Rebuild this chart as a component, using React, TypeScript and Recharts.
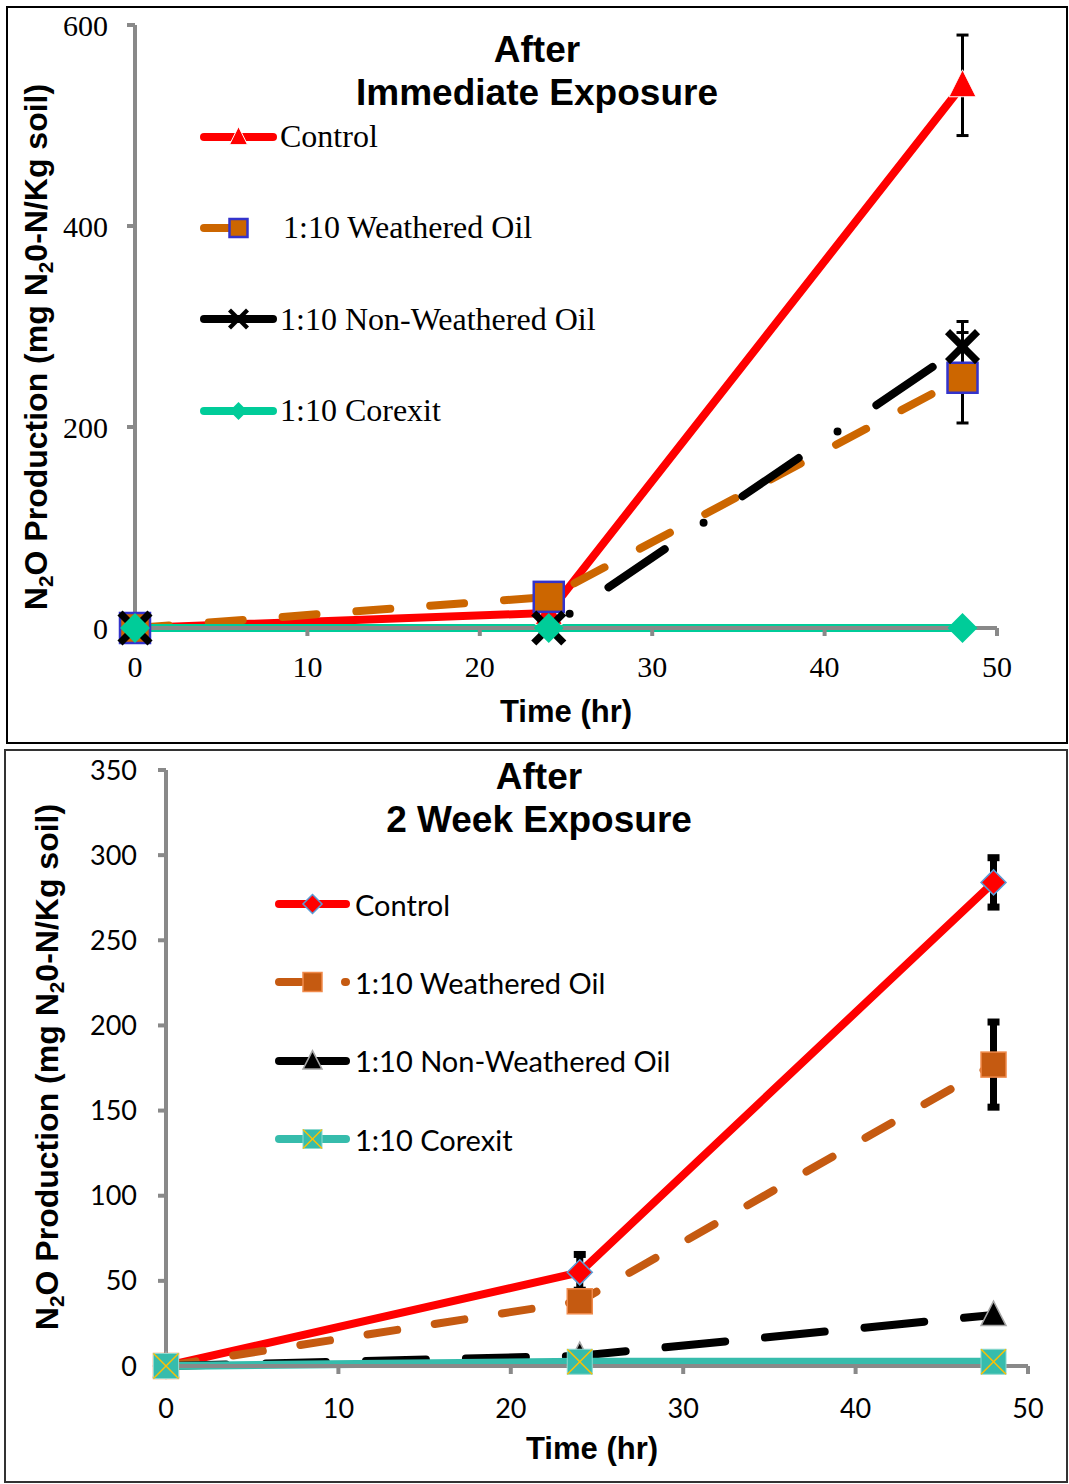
import React from 'react';
import { LineChart, Line, XAxis, YAxis, ErrorBar, Legend } from 'recharts';

const hours = [0, 24, 48];

// After immediate exposure
const immControl = [0, 15, 540];
const immControlErr = [0, 0, 50];
const immWeathered = [0, 31, 249];
const immWeatheredErr = [0, 0, 45];
const immNonWeathered = [0, 0, 280];
const immNonWeatheredErr = [0, 0, 25];
const immCorexit = [0, 0, 0];

// After 2 week exposure
const wkControl = [0, 55, 284];
const wkControlErr = [0, 10.5, 14.5];
const wkWeathered = [0, 38, 177];
const wkWeatheredErr = [0, 0, 25];
const wkNonWeathered = [0, 6, 30];
const wkCorexit = [0, 2.5, 2.5];

const xTicks = [0, 10, 20, 30, 40, 50];
const immYTicks = [0, 200, 400, 600];
const wkYTicks = [0, 50, 100, 150, 200, 250, 300, 350];

const seriesNames = ['Control', '1:10 Weathered Oil', '1:10 Non-Weathered Oil', '1:10 Corexit'];

const immData = hours.map((t, i) => ({
  t,
  control: immControl[i], controlErr: immControlErr[i],
  weathered: immWeathered[i], weatheredErr: immWeatheredErr[i],
  nonWeathered: immNonWeathered[i], nonWeatheredErr: immNonWeatheredErr[i],
  corexit: immCorexit[i],
}));

const wkData = hours.map((t, i) => ({
  t,
  control: wkControl[i], controlErr: wkControlErr[i],
  weathered: wkWeathered[i], weatheredErr: wkWeatheredErr[i],
  nonWeathered: wkNonWeathered[i],
  corexit: wkCorexit[i],
}));

const SERIF = '"Liberation Serif", "Times New Roman", serif';
const SANS = '"Liberation Sans", Arial, sans-serif';
const CAL = 'Lato, "Open Sans", sans-serif';
const AXIS = '#898989';

// styles per panel
const topStyle = [
  { key: 'control', color: '#FF0000', dash: undefined, legendDash: undefined, marker: 'tri' },
  { key: 'weathered', color: '#CC6600', dash: '34 40', legendDash: '26 80', marker: 'sq' },
  { key: 'nonWeathered', color: '#000000', dash: '68 47 0 47', legendDash: undefined, marker: 'x' },
  { key: 'corexit', color: '#00CC99', dash: undefined, legendDash: undefined, marker: 'dia' },
];
const wkStyle = [
  { key: 'control', color: '#FF0000', dash: undefined, legendDash: undefined, marker: 'wdia' },
  { key: 'weathered', color: '#C55A11', dash: '30 38', legendDash: '22 44', marker: 'wsq' },
  { key: 'nonWeathered', color: '#000000', dash: '60 40', legendDash: undefined, marker: 'wtri' },
  { key: 'corexit', color: '#36BCAC', dash: undefined, legendDash: undefined, marker: 'xsq' },
];

function Marker({ kind, cx, cy, s }: any) {
  const h = s / 2;
  switch (kind) {
    case 'tri':
      return <polygon points={`${cx},${cy - h * 1.15} ${cx - h},${cy + h * 0.85} ${cx + h},${cy + h * 0.85}`} fill="#FF0000" stroke="#fff" strokeWidth={1} />;
    case 'sq':
      return <rect x={cx - h} y={cy - h} width={s} height={s} fill="#CC6600" stroke="#3333CC" strokeWidth={2.5} />;
    case 'x':
      return (
        <g stroke="#000" strokeWidth={s * 0.24}>
          <line x1={cx - h} y1={cy - h} x2={cx + h} y2={cy + h} />
          <line x1={cx - h} y1={cy + h} x2={cx + h} y2={cy - h} />
        </g>
      );
    case 'dia':
      return <polygon points={`${cx},${cy - h} ${cx + h},${cy} ${cx},${cy + h} ${cx - h},${cy}`} fill="#00CC99" />;
    case 'wdia':
      return <polygon points={`${cx},${cy - h} ${cx + h},${cy} ${cx},${cy + h} ${cx - h},${cy}`} fill="#FF0000" stroke="#5B9BD5" strokeWidth={1.5} />;
    case 'wsq':
      return <rect x={cx - h} y={cy - h} width={s} height={s} fill="#C55A11" stroke="#F08A4B" strokeWidth={1.5} />;
    case 'wtri':
      return <polygon points={`${cx},${cy - h * 1.1} ${cx - h},${cy + h * 0.85} ${cx + h},${cy + h * 0.85}`} fill="#000" stroke="#A6A6A6" strokeWidth={1.5} />;
    case 'xsq':
      return (
        <g>
          <rect x={cx - h} y={cy - h} width={s} height={s} fill="#36BCAC" stroke="#8FD9CF" strokeWidth={1} />
          <line x1={cx - h} y1={cy - h} x2={cx + h} y2={cy + h} stroke="#FFC000" strokeWidth={1.5} />
          <line x1={cx - h} y1={cy + h} x2={cx + h} y2={cy - h} stroke="#FFC000" strokeWidth={1.5} />
        </g>
      );
    default:
      return null;
  }
}

const dotOf = (kind: string, size: number) => (p: any) => {
  if (p.cx == null || p.cy == null) return <g key={`e${p.index}`} />;
  return <Marker key={`m${p.index}`} kind={kind} cx={p.cx} cy={p.cy} s={size} />;
};

function LegendBox({ styles, font, fontSize, rowH, svgW, lineX1, lineX2, markerSize, gap, extra }: any) {
  return (
    <div style={{ fontFamily: font, fontSize, color: '#000' }}>
      {styles.map((st: any, i: number) => (
        <div key={st.key} style={{ height: rowH, display: 'flex', alignItems: 'center', whiteSpace: 'nowrap' }}>
          <svg width={svgW} height={30} style={{ overflow: 'visible' }}>
            <line x1={lineX1} y1={15} x2={lineX2} y2={15} stroke={st.color} strokeWidth={8}
              strokeLinecap="round" strokeDasharray={st.legendDash} />
            <Marker kind={st.marker} cx={(lineX1 + lineX2) / 2} cy={15} s={markerSize} />
          </svg>
          <span style={{ marginLeft: gap + (i === 1 ? extra : 0) }}>{seriesNames[i]}</span>
        </div>
      ))}
    </div>
  );
}

function YTitle({ cx, cy }: any) {
  const sub = { fontSize: '0.65em', position: 'relative' as const, top: '0.3em' };
  return (
    <div style={{
      position: 'absolute', left: cx - 300, top: cy - 20, width: 600, height: 40, lineHeight: '40px',
      textAlign: 'center', transform: 'rotate(-90deg)', fontFamily: SANS, fontWeight: 'bold', fontSize: 32,
      whiteSpace: 'nowrap',
    }}>
      N<span style={sub}>2</span>O Production (mg N<span style={sub}>2</span>0-N/Kg soil)
    </div>
  );
}

function Title({ cx, top, lines, lh }: any) {
  return (
    <div style={{
      position: 'absolute', left: cx - 300, top, width: 600, textAlign: 'center', fontFamily: SANS,
      fontWeight: 'bold', fontSize: 37, lineHeight: `${lh}px`,
    }}>
      {lines.map((l: string) => <div key={l}>{l}</div>)}
    </div>
  );
}

function XTitle({ cx, cy }: any) {
  return (
    <div style={{
      position: 'absolute', left: cx - 150, top: cy - 20, width: 300, height: 40, lineHeight: '40px',
      textAlign: 'center', fontFamily: SANS, fontWeight: 'bold', fontSize: 31,
    }}>Time (hr)</div>
  );
}

export default function App() {
  const axisLine = { stroke: AXIS, strokeWidth: 4 };
  return (
    <div style={{ position: 'absolute', left: 0, top: 0, width: 1069, height: 1484, background: '#fff', overflow: 'hidden' }}>
      {/* top panel */}
      <div style={{ position: 'absolute', left: 6, top: 6, width: 1062, height: 738, border: '2px solid #000', boxSizing: 'border-box' }} />
      <div style={{ position: 'absolute', left: 7, top: 7 }}>
        <LineChart width={1060} height={736} data={immData} margin={{ top: 18, right: 70, bottom: 75, left: 68 }}>
          <XAxis dataKey="t" type="number" domain={[0, 50]} ticks={xTicks} height={40}
            axisLine={axisLine} tickLine={axisLine} tickSize={8} tickMargin={20}
            tick={{ fill: '#000', fontSize: 30, fontFamily: SERIF }} />
          <YAxis type="number" domain={[0, 600]} ticks={immYTicks} width={60}
            axisLine={axisLine} tickLine={axisLine} tickSize={8} tickMargin={19}
            tick={{ fill: '#000', fontSize: 30, fontFamily: SERIF }} />
          {topStyle.map((st) => (
            <Line key={st.key} dataKey={st.key} stroke={st.color} strokeWidth={8} strokeDasharray={st.dash}
              strokeLinecap="round" dot={dotOf(st.marker, st.marker === 'tri' ? 27 : 30)} activeDot={false}
              isAnimationActive={false}>
              {st.key !== 'corexit' && (
                <ErrorBar dataKey={`${st.key}Err`} direction="y" width={6} strokeWidth={3} stroke="#000"
                  isAnimationActive={false} />
              )}
            </Line>
          ))}
          <Legend layout="horizontal" verticalAlign="middle" align="center"
            wrapperStyle={{ left: 189, top: 84, width: 'auto', height: 'auto' }}
            content={() => (
              <LegendBox styles={topStyle} font={SERIF} fontSize={32} rowH={91.3} svgW={84}
                lineX1={8} lineX2={77} markerSize={18} gap={0} extra={3} />
            )} />
        </LineChart>
      </div>
      <Title cx={537} top={28} lines={['After', 'Immediate Exposure']} lh={43} />
      <XTitle cx={566} cy={712} />
      <YTitle cx={36} cy={347} />

      {/* bottom panel */}
      <div style={{ position: 'absolute', left: 4, top: 749, width: 1064, height: 734, border: '2px solid #333', boxSizing: 'border-box' }} />
      <div style={{ position: 'absolute', left: 5, top: 750 }}>
        <LineChart width={1062} height={732} data={wkData} margin={{ top: 20, right: 39, bottom: 76, left: 101 }}>
          <XAxis dataKey="t" type="number" domain={[0, 50]} ticks={xTicks} height={40}
            axisLine={axisLine} tickLine={axisLine} tickSize={8} tickMargin={25}
            tick={{ fill: '#000', fontSize: 27, fontFamily: CAL }} />
          <YAxis type="number" domain={[0, 350]} ticks={wkYTicks} width={60}
            axisLine={axisLine} tickLine={axisLine} tickSize={8} tickMargin={21}
            tick={{ fill: '#000', fontSize: 27, fontFamily: CAL }} />
          {wkStyle.map((st) => (
            <Line key={st.key} dataKey={st.key} stroke={st.color} strokeWidth={8} strokeDasharray={st.dash}
              strokeLinecap="round" dot={dotOf(st.marker, 25)} activeDot={false}
              isAnimationActive={false}>
              {(st.key === 'control' || st.key === 'weathered') && (
                <ErrorBar dataKey={`${st.key}Err`} direction="y" width={6} strokeWidth={7} stroke="#000"
                  isAnimationActive={false} />
              )}
            </Line>
          ))}
          <Legend layout="horizontal" verticalAlign="middle" align="center"
            wrapperStyle={{ left: 266, top: 115, width: 'auto', height: 'auto' }}
            content={() => (
              <LegendBox styles={wkStyle} font={CAL} fontSize={29} rowH={78.3} svgW={80}
                lineX1={8} lineX2={75} markerSize={19} gap={4} extra={0} />
            )} />
        </LineChart>
      </div>
      <Title cx={539} top={755} lines={['After', '2 Week Exposure']} lh={43} />
      <XTitle cx={592} cy={1449} />
      <YTitle cx={47} cy={1067} />
    </div>
  );
}
